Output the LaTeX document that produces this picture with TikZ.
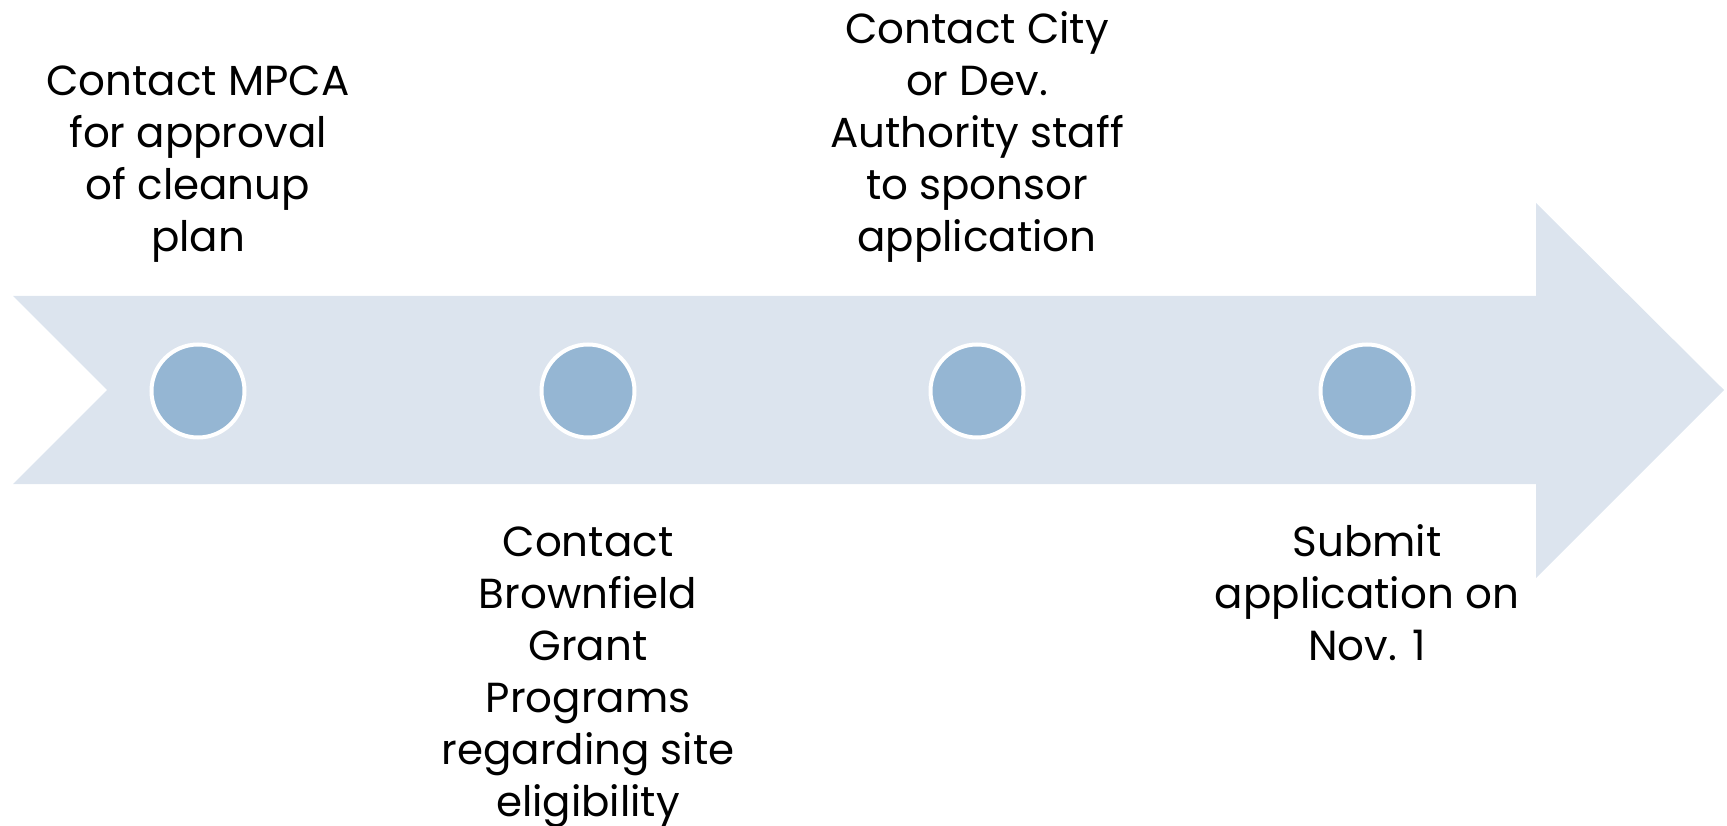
\documentclass[tikz,border=0pt]{standalone}
\usepackage{fontspec}
\setmainfont{Poppins}
\definecolor{band}{HTML}{DCE4EE}
\definecolor{dot}{HTML}{95B6D3}
\begin{document}
\begin{tikzpicture}[x=1pt,y=-1pt,
  dotnode/.style={circle,fill=dot,draw=white,line width=4pt,minimum size=93pt,inner sep=0pt},
  lbl/.style={anchor=base,inner sep=0pt,font=\fontsize{42}{52}\selectfont}]
\useasboundingbox (0,0) rectangle (1727,826);
\fill[band] (13,296) -- (1536,296) -- (1536,203) -- (1724,390) -- (1536,578) -- (1536,484) -- (13,484) -- (107,390) -- cycle;
\node[dotnode] (d1) at (198,391) {};
\node[dotnode] (d2) at (588,391) {};
\node[dotnode] (d3) at (977,391) {};
\node[dotnode] (d4) at (1367,391) {};
\node[lbl] (t1) at (198,96) {\begin{tabular}[t]{@{}c@{}}Contact MPCA\\for approval\\of cleanup\\plan\end{tabular}};
\node[lbl] (t2) at (588,556) {\begin{tabular}[t]{@{}c@{}}Contact\\Brownfield\\Grant\\Programs\\regarding site\\eligibility\end{tabular}};
\node[lbl] (t3) at (977,44) {\begin{tabular}[t]{@{}c@{}}Contact City\\or Dev.\\Authority staff\\to sponsor\\application\end{tabular}};
\node[lbl] (t4) at (1367,556) {\begin{tabular}[t]{@{}c@{}}Submit\\application on\\Nov. 1\end{tabular}};
\end{tikzpicture}
\end{document}
